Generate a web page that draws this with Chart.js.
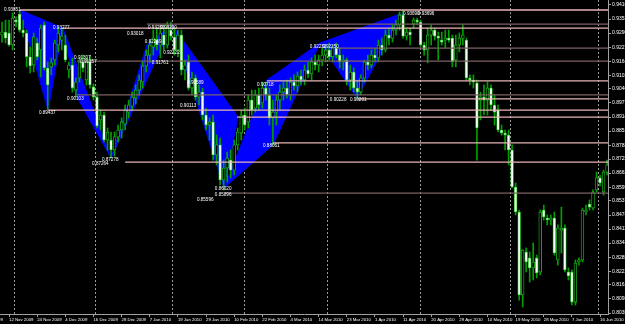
<!DOCTYPE html>
<html>
<head>
<meta charset="utf-8">
<script src="https://cdn.jsdelivr.net/npm/chart.js@4"></script>
<style>
  html, body { margin: 0; padding: 0; background: #000; }
  #graf { display: block; background: #000; }
</style>
</head>
<body>
<canvas id="graf" width="625" height="324"></canvas>
<script>
// daily candles, index 0 = first bar on screen (10 Nov 2009)
var openP = [0.9282,0.9295,0.9291,0.9237,0.9349,0.9376,0.9304,0.9291,0.9184,0.9147,0.9246,0.9215,0.9327,0.9134,0.9139,0.9170,0.9237,0.9259,0.9237,0.9125,
  0.9147,0.9035,0.9089,0.9161,0.9080,0.9170,0.9049,0.9004,0.8901,0.8923,0.8811,0.8811,0.8766,0.8825,0.8856,0.8883,0.8936,0.8963,0.8999,0.9035,
  0.9071,0.9143,0.9192,0.9228,0.9259,0.9237,0.9282,0.9237,0.9304,0.9273,0.9215,0.9282,0.9125,0.9161,0.9044,0.9089,0.9004,0.9026,0.8923,0.8878,
  0.8892,0.8744,0.8789,0.8632,0.8685,0.8721,0.8676,0.8789,0.8842,0.8923,0.8892,0.8990,0.8954,0.9013,0.8977,0.9044,0.9013,0.8910,0.8936,0.8990,
  0.9026,0.9044,0.9013,0.9071,0.9053,0.9098,0.9080,0.9125,0.9107,0.9161,0.9147,0.9170,0.9192,0.9215,0.9184,0.9223,0.9192,0.9161,0.9170,0.9080,
  0.9116,0.9044,0.9026,0.9089,0.9161,0.9147,0.9192,0.9179,0.9237,0.9215,0.9282,0.9268,0.9304,0.9327,0.9372,0.9277,0.9295,0.9331,0.9349,0.9340,
  0.9237,0.9215,0.9282,0.9304,0.9277,0.9259,0.9259,0.9268,0.9268,0.9170,0.9237,0.9268,0.9259,0.9089,0.9080,0.9067,0.8990,0.9004,0.8990,0.9044,
  0.8968,0.8945,0.8856,0.8842,0.8833,0.8766,0.8600,0.8488,0.8116,0.8309,0.8282,0.8237,0.8282,0.8219,0.8497,0.8461,0.8452,0.8461,0.8273,0.8407,
  0.8416,0.8219,0.8219,0.8084,0.8264,0.8273,0.8488,0.8524,0.8506,0.8587,0.8641,0.8578,0.8667];
var highP = [0.9340,0.9349,0.9349,0.9381,0.9363,0.9394,0.9349,0.9304,0.9228,0.9291,0.9268,0.9327,0.9340,0.9161,0.9179,0.9259,0.9318,0.9313,0.9282,0.9161,
  0.9179,0.9089,0.9179,0.9192,0.9179,0.9192,0.9062,0.9026,0.8945,0.8936,0.8865,0.8847,0.8847,0.8878,0.8910,0.8968,0.8990,0.9026,0.9058,0.9103,
  0.9161,0.9215,0.9259,0.9304,0.9313,0.9313,0.9327,0.9340,0.9340,0.9313,0.9304,0.9304,0.9170,0.9192,0.9116,0.9103,0.9058,0.9044,0.8954,0.8910,
  0.8923,0.8833,0.8820,0.8721,0.8757,0.8766,0.8811,0.8865,0.8945,0.8954,0.9013,0.9035,0.9035,0.9044,0.9071,0.9071,0.9044,0.8990,0.9013,0.9058,
  0.9071,0.9080,0.9089,0.9103,0.9116,0.9125,0.9147,0.9161,0.9179,0.9192,0.9192,0.9223,0.9237,0.9246,0.9237,0.9246,0.9223,0.9192,0.9179,0.9147,
  0.9134,0.9080,0.9103,0.9170,0.9192,0.9215,0.9223,0.9259,0.9268,0.9304,0.9313,0.9327,0.9349,0.9385,0.9394,0.9313,0.9313,0.9358,0.9358,0.9349,
  0.9250,0.9313,0.9327,0.9313,0.9295,0.9295,0.9304,0.9304,0.9282,0.9282,0.9291,0.9327,0.9268,0.9103,0.9103,0.9080,0.9026,0.9058,0.9071,0.9058,
  0.9013,0.8968,0.8878,0.8856,0.8856,0.8789,0.8618,0.8497,0.8318,0.8327,0.8309,0.8349,0.8295,0.8497,0.8519,0.8475,0.8475,0.8488,0.8430,0.8510,
  0.8430,0.8237,0.8228,0.8273,0.8282,0.8506,0.8519,0.8542,0.8587,0.8667,0.8654,0.8676,0.8721];
var lowP = [0.9250,0.9246,0.9232,0.9215,0.9318,0.9295,0.9273,0.9139,0.9112,0.9116,0.9170,0.9094,0.9125,0.8945,0.9103,0.9147,0.9206,0.9215,0.9161,0.9089,
  0.9026,0.9004,0.9071,0.9116,0.9058,0.9044,0.8990,0.8865,0.8856,0.8802,0.8766,0.8730,0.8739,0.8802,0.8820,0.8856,0.8910,0.8945,0.8972,0.9013,
  0.9044,0.9116,0.9157,0.9192,0.9215,0.9179,0.9215,0.9223,0.9259,0.9192,0.9184,0.9103,0.9080,0.9035,0.9013,0.8990,0.8968,0.8901,0.8856,0.8811,
  0.8721,0.8699,0.8609,0.8587,0.8623,0.8641,0.8654,0.8766,0.8811,0.8856,0.8865,0.8923,0.8936,0.8945,0.8954,0.8990,0.8878,0.8789,0.8878,0.8945,
  0.8990,0.8999,0.8990,0.9035,0.9026,0.9058,0.9058,0.9089,0.9080,0.9125,0.9116,0.9143,0.9161,0.9170,0.9161,0.9179,0.9134,0.9125,0.9058,0.9035,
  0.9026,0.8999,0.9013,0.9071,0.9125,0.9134,0.9161,0.9161,0.9192,0.9206,0.9237,0.9250,0.9282,0.9304,0.9268,0.9259,0.9237,0.9313,0.9327,0.9228,
  0.9192,0.9157,0.9237,0.9259,0.9170,0.9237,0.9223,0.9250,0.9139,0.9139,0.9206,0.9237,0.9080,0.9058,0.9044,0.8721,0.8901,0.8923,0.8923,0.8945,
  0.8878,0.8847,0.8833,0.8766,0.8699,0.8596,0.8475,0.8093,0.8062,0.8219,0.8174,0.8183,0.8192,0.8206,0.8452,0.8430,0.8430,0.8295,0.8250,0.8304,
  0.8219,0.8183,0.8071,0.8071,0.8250,0.8264,0.8475,0.8497,0.8497,0.8578,0.8605,0.8564,0.8654];
var closeP = [0.9295,0.9268,0.9237,0.9358,0.9340,0.9304,0.9291,0.9184,0.9143,0.9273,0.9184,0.9313,0.9134,0.9058,0.9157,0.9246,0.9291,0.9277,0.9170,0.9147,
  0.9044,0.9071,0.9161,0.9134,0.9161,0.9058,0.9004,0.8874,0.8923,0.8811,0.8847,0.8766,0.8825,0.8856,0.8892,0.8945,0.8968,0.9004,0.9035,0.9080,
  0.9143,0.9192,0.9237,0.9268,0.9237,0.9291,0.9237,0.9313,0.9277,0.9215,0.9282,0.9125,0.9147,0.9044,0.9089,0.9004,0.9026,0.8923,0.8878,0.8892,
  0.8744,0.8789,0.8632,0.8685,0.8730,0.8676,0.8789,0.8847,0.8923,0.8878,0.8990,0.8945,0.9013,0.8968,0.9044,0.9013,0.8910,0.8936,0.8990,0.9026,
  0.9044,0.9013,0.9071,0.9053,0.9098,0.9080,0.9125,0.9107,0.9161,0.9147,0.9170,0.9192,0.9215,0.9184,0.9223,0.9192,0.9161,0.9170,0.9080,0.9116,
  0.9044,0.9026,0.9089,0.9161,0.9147,0.9192,0.9179,0.9237,0.9215,0.9282,0.9268,0.9304,0.9327,0.9372,0.9277,0.9295,0.9282,0.9349,0.9340,0.9237,
  0.9215,0.9282,0.9304,0.9277,0.9268,0.9250,0.9268,0.9259,0.9161,0.9237,0.9268,0.9282,0.9089,0.9080,0.9071,0.8865,0.9004,0.8990,0.9044,0.8968,
  0.8936,0.8856,0.8842,0.8833,0.8766,0.8600,0.8488,0.8116,0.8318,0.8264,0.8237,0.8264,0.8215,0.8488,0.8466,0.8452,0.8461,0.8304,0.8416,0.8416,
  0.8228,0.8201,0.8084,0.8259,0.8273,0.8497,0.8497,0.8510,0.8578,0.8641,0.8618,0.8667,0.8699];

// bottom axis: date labels every 8 bars
var xTickIdx = [-6,2,10,18,26,34,42,50,58,66,74,82,90,98,106,114,122,130,138,146,154,162,170];
var xTickLabels = ['2 Nov 2009','12 Nov 2009','24 Nov 2009','4 Dec 2009','16 Dec 2009','28 Dec 2009','7 Jan 2010',
  '19 Jan 2010','29 Jan 2010','10 Feb 2010','22 Feb 2010','4 Mar 2010','14 Mar 2010','23 Mar 2010','1 Apr 2010',
  '11 Apr 2010','20 Apr 2010','29 Apr 2010','10 May 2010','19 May 2010','28 May 2010','7 Jun 2010','16 Jun 2010'];
// month separators (first bar of month)
var monthIdx = [15, 38, 59, 79, 106, 132, 157];
// right price axis
var yTickValues = [0.94165,0.93535,0.92905,0.92275,0.91645,0.91015,0.90400,0.89770,0.89140,0.88510,0.87880,0.87255,
  0.86625,0.85995,0.85375,0.84745,0.84115,0.83485,0.82855,0.82225,0.81610,0.80980,0.80350];

// horizontal levels: price and bar where they start
var lightLevelPrice = [0.9394, 0.9313, 0.9076, 0.8995, 0.8945, 0.8914, 0.8798, 0.8712];
var lightLevelFrom = [5.1, 17.3, 75.3, 100.9, 13.1, 66.8, 77, 35];
var darkLevelPrice = [0.9331, 0.9223, 0.9165, 0.9013, 0.8573];
var darkLevelFrom = [41.2, 95.2, 21.3, 21.3, 63.4];

// pattern triangles, vertices as [bar, price]
var patternTriangles = [
  [[5.1, 0.9394], [13.1, 0.8945], [17.3, 0.9313]],
  [[17.3, 0.9313], [21.3, 0.9004], [31.0, 0.8730]],
  [[31.0, 0.8730], [41.2, 0.9237], [48.3, 0.9327]],
  [[48.3, 0.9327], [67.1, 0.8914], [63.1, 0.8596]],
  [[63.1, 0.8596], [75.3, 0.9080], [77.0, 0.8789]],
  [[77.0, 0.8789], [75.3, 0.9080], [90.4, 0.9246]],
  [[90.4, 0.9246], [100.9, 0.8999], [114.0, 0.9381]]
];
// price captions at pattern points: text, bar, price
var patternLabels = [
  ['0.93851', 0.6, 0.9394], ['0.93277', 14.5, 0.9313], ['0.89437', 10.5, 0.8932], ['0.91307', 20.5, 0.9179],
  ['0.91257', 22.2, 0.9161], ['0.90103', 18.5, 0.8995], ['0.87278', 28.4, 0.8721], ['0.87264', 25.6, 0.8703],
  ['0.93018', 35.5, 0.9286], ['0.93250', 41.5, 0.9313], ['0.93290', 45.0, 0.9313], ['0.92269', 40.6, 0.9250],
  ['0.92122', 45.8, 0.9201], ['0.91761', 42.6, 0.9157], ['0.90589', 52.6, 0.9067], ['0.90113', 50.6, 0.8963],
  ['0.86020', 60.5, 0.8591], ['0.85896', 60.5, 0.8564], ['0.85596', 55.4, 0.8542], ['0.90718', 72.5, 0.9058],
  ['0.88061', 74.2, 0.8784], ['0.92232', 87.5, 0.9228], ['0.92250', 91.0, 0.9228], ['0.90228', 93.2, 0.8990],
  ['0.90201', 98.9, 0.8990], ['0.93690', 114.0, 0.9376], ['0.93696', 118.2, 0.9376]
];

var X_MIN = -0.57, X_MAX = 172.26;

function levelSets(prices, from, color) {
  return prices.map(function (p, k) {
    return {
      type: 'line',
      data: [{x: from[k], y: p}, {x: X_MAX, y: p}],
      borderColor: color,
      borderWidth: 1.3,
      pointRadius: 0,
      order: 0
    };
  });
}

var wicks = openP.map(function (o, i) { return {x: i, y: [lowP[i], highP[i]]}; });
var bodies = openP.map(function (o, i) { return {x: i, y: [o, closeP[i]]}; });

var triSets = patternTriangles.map(function (tri) {
  var pts = tri.map(function (v) { return {x: v[0], y: v[1]}; });
  pts.push(pts[0]);
  return {
    type: 'line', data: pts, fill: 'shape',
    backgroundColor: '#0000ff', borderColor: '#0000ff', borderWidth: 1,
    pointRadius: 0, tension: 0, order: 5
  };
});

var datasets = [
  {
    type: 'bar', data: bodies, barThickness: 2.8, grouped: false, order: 1,
    backgroundColor: function (c) { var i = c.dataIndex; return closeP[i] < openP[i] ? '#f4fff4' : '#000000'; },
    borderColor: '#22c322', borderWidth: 0.8, borderSkipped: false
  },
  {
    type: 'bar', data: wicks, barThickness: 1, grouped: false, order: 2,
    backgroundColor: '#009e00'
  }
].concat(triSets)
 .concat(levelSets(lightLevelPrice, lightLevelFrom, '#e8b4b4'))
 .concat(levelSets(darkLevelPrice, darkLevelFrom, '#7a6262'));

function noPad(scale) {
  scale.paddingTop = 0; scale.paddingBottom = 0;
  scale.paddingLeft = 0; scale.paddingRight = 0;
}

var labelPlugin = {
  id: 'patternLabels',
  afterDatasetsDraw: function (chart) {
    var ctx = chart.ctx, xs = chart.scales.x, ys = chart.scales.y;
    ctx.save();
    ctx.font = '4.6px "Liberation Sans"';
    ctx.fillStyle = '#ffffff';
    ctx.textBaseline = 'middle';
    patternLabels.forEach(function (l) {
      ctx.fillText(l[0], xs.getPixelForValue(l[1]), ys.getPixelForValue(l[2]));
    });
    ctx.restore();
  }
};

var ctx = document.getElementById('graf').getContext('2d');
var myChart = new Chart(ctx, {
  type: 'bar',
  data: { datasets: datasets },
  plugins: [labelPlugin],
  options: {
    responsive: false,
    animation: false,
    devicePixelRatio: 1,
    layout: { padding: 0 },
    plugins: { legend: { display: false }, tooltip: { enabled: false } },
    scales: {
      x: {
        type: 'linear', min: X_MIN, max: X_MAX, offset: false, position: 'bottom',
        grid: { display: true, drawOnChartArea: false, offset: false, tickLength: 3, color: '#a0a0a0' },
        border: { display: true, color: '#a0a0a0', width: 1 },
        afterBuildTicks: function (s) { s.ticks = xTickIdx.map(function (v) { return {value: v}; }); },
        ticks: {
          autoSkip: false, maxRotation: 0, align: 'start', padding: 0, color: '#ffffff',
          font: { family: 'Liberation Sans', size: 4.3 },
          callback: function (v) { return xTickLabels[xTickIdx.indexOf(v)]; }
        },
        afterFit: function (s) { s.height = 10; noPad(s); }
      },
      sep: {
        type: 'linear', min: X_MIN, max: X_MAX, offset: false, position: 'top',
        grid: { display: true, drawOnChartArea: true, drawTicks: false, color: '#9a9a9a', lineWidth: 1 },
        border: { display: false, dash: [2, 2] },
        afterBuildTicks: function (s) { s.ticks = monthIdx.map(function (v) { return {value: v}; }); },
        ticks: { display: false },
        afterFit: function (s) { s.height = 0; noPad(s); }
      },
      y: {
        type: 'linear', position: 'right', min: 0.80306, max: 0.94389,
        grid: { display: true, drawOnChartArea: false, tickLength: 3, color: '#a0a0a0' },
        border: { display: true, color: '#a0a0a0', width: 1 },
        afterBuildTicks: function (s) { s.ticks = yTickValues.map(function (v) { return {value: v}; }); },
        ticks: {
          padding: 1, color: '#ffffff',
          font: { family: 'Liberation Sans', size: 5 },
          callback: function (v) { return v.toFixed(5); }
        },
        afterFit: function (s) { s.width = 17; noPad(s); }
      }
    }
  }
});
</script>
</body>
</html>
